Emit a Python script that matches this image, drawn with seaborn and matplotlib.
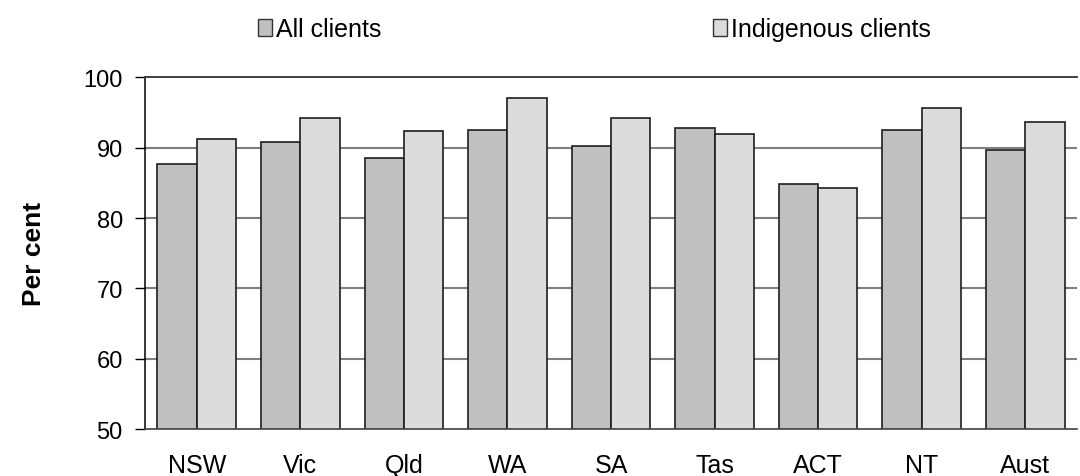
import matplotlib
matplotlib.use("Agg")
import matplotlib.pyplot as plt
from matplotlib.patches import Patch
import seaborn as sns
import pandas as pd
import numpy as np

sns.set_theme(style="white")
plt.rcParams["font.family"] = ["Liberation Sans", "DejaVu Sans"]
plt.rcParams["text.color"] = "black"
plt.rcParams["axes.labelcolor"] = "black"
plt.rcParams["xtick.color"] = "black"
plt.rcParams["ytick.color"] = "black"

jurisdictions = ["NSW", "Vic", "Qld", "WA", "SA", "Tas", "ACT", "NT", "Aust"]
all_clients = [87.7, 90.8, 88.5, 92.5, 90.2, 92.8, 84.9, 92.5, 89.6]
indigenous_clients = [91.3, 94.2, 92.3, 97.0, 94.2, 91.9, 84.3, 95.7, 93.6]
series_names = ["All clients", "Indigenous clients"]
series_colors = ["#c0c0c0", "#dcdcdc"]
y_ticks = [50, 60, 70, 80, 90, 100]

df = pd.DataFrame({
    "Jurisdiction": jurisdictions * 2,
    "Series": [series_names[0]] * len(jurisdictions) + [series_names[1]] * len(jurisdictions),
    "Value": all_clients + indigenous_clients,
})

fig = plt.figure(figsize=(10.8, 4.77), dpi=100)
ax = fig.add_axes([0.1343, 0.0985, 0.8629, 0.7373])

# gridlines behind the bars
for yv in y_ticks[1:-1]:
    ax.axhline(yv, color="#7f7f7f", lw=1.5, zorder=0)

sns.barplot(data=df, x="Jurisdiction", y="Value", hue="Series",
            order=jurisdictions, hue_order=series_names,
            palette=series_colors, width=0.76, edgecolor="#1e1e1e",
            linewidth=1.2, saturation=1, ax=ax, legend=False, zorder=2)

ax.set_ylim(50, 100)
ax.set_xlim(-0.5, len(jurisdictions) - 0.5)
ax.set_yticks(y_ticks)
ax.set_yticklabels([str(v) for v in y_ticks], fontsize=17)
ax.set_xticks(range(len(jurisdictions)))
ax.set_xticklabels(jurisdictions, fontsize=18)
ax.set_xticks(np.arange(-0.5, len(jurisdictions), 1.0), minor=True)
ax.tick_params(axis="x", which="major", length=0, pad=17)
ax.tick_params(axis="x", which="minor", length=5, width=1, direction="out")
ax.tick_params(axis="y", which="major", length=7, width=1,
               direction="out", pad=9, left=True)
ax.set_xlabel("")
ax.set_ylabel("Per cent", fontsize=19, fontweight="bold")
ax.yaxis.set_label_coords(-0.106, 0.5)

ax.spines["left"].set_color("black")
ax.spines["left"].set_linewidth(1.1)
ax.spines["bottom"].set_color("#404040")
ax.spines["bottom"].set_linewidth(1.2)
ax.spines["top"].set_color("#404040")
ax.spines["top"].set_linewidth(1.4)
ax.spines["right"].set_visible(False)

# legend across the top
handles = [Patch(facecolor=c, edgecolor="#333333", linewidth=1) for c in series_colors]
fig.legend(handles, series_names, loc="center left", bbox_to_anchor=(0.239, 0.937),
           ncol=2, frameon=False, fontsize=18, handlelength=0.55, handleheight=0.7,
           handletextpad=0.15, columnspacing=13.3, borderpad=0, borderaxespad=0)

fig.savefig("out.png", dpi=100)
